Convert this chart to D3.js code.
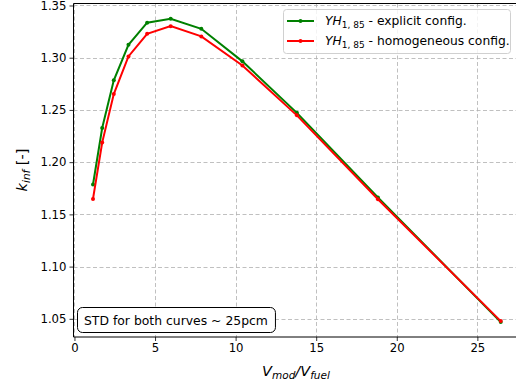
<!DOCTYPE html>
<html><head><meta charset="utf-8">
<script src="https://cdn.jsdelivr.net/npm/d3@7"></script>
<style>
body{margin:0;background:#fff;}
text{font-family:"DejaVu Sans",sans-serif;}
</style></head>
<body><svg id="c" width="516" height="387"></svg>
<script>
const xValues = [1.15, 1.72, 2.44, 3.35, 4.51, 5.97, 7.87, 10.42, 13.8, 18.83, 26.45];
const explicitVals = [1.1786, 1.2327, 1.2783, 1.3124, 1.3335, 1.3373, 1.3277, 1.2965, 1.2472, 1.1662, 1.0470];
const homogeneousVals = [1.1648, 1.2187, 1.2652, 1.3012, 1.3229, 1.3302, 1.3204, 1.2926, 1.2448, 1.1645, 1.0478];
const xTicks = [0, 5, 10, 15, 20, 25];
const yTicks = [1.05, 1.10, 1.15, 1.20, 1.25, 1.30, 1.35];
const seriesNames = ["explicit config.", "homogeneous config."];
const seriesColors = ["#008000", "#ff0000"];
const annotation = "STD for both curves ~ 25pcm";

const svg = d3.select("#c");
const L = 73.5, R = 522, T = 3.5, B = 337;
const x = d3.scaleLinear().domain([-0.06, 27.77]).range([L, R]);
const y = d3.scaleLinear().domain([1.0326, 1.3519]).range([B, T]);

// grid
const g = svg.append("g");
g.selectAll(".gx").data(xTicks).enter().append("line")
  .attr("x1", d => Math.round(x(d)) + 0.5).attr("x2", d => Math.round(x(d)) + 0.5)
  .attr("y1", T).attr("y2", B).attr("stroke", "#b0b0b0").attr("stroke-width", 0.8)
  .attr("stroke-dasharray", "4,2.5");
g.selectAll(".gy").data(yTicks).enter().append("line")
  .attr("y1", d => Math.round(y(d)) + 0.5).attr("y2", d => Math.round(y(d)) + 0.5)
  .attr("x1", L).attr("x2", R).attr("stroke", "#b0b0b0").attr("stroke-width", 0.8)
  .attr("stroke-dasharray", "4,2.5");

// axes
const xAxis = d3.axisBottom(x).tickValues(xTicks).tickSize(4).tickPadding(3).tickFormat(d3.format("d"));
const yAxis = d3.axisLeft(y).tickValues(yTicks).tickSize(4).tickPadding(3).tickFormat(d3.format(".2f"));
const gx = svg.append("g").attr("transform", `translate(0,${B})`).call(xAxis);
const gy = svg.append("g").attr("transform", `translate(${L},0)`).call(yAxis);
[gx, gy].forEach(a => {
  a.select(".domain").remove();
  a.selectAll("text").attr("font-size", 11.7).attr("fill", "#000").attr("font-family", "DejaVu Sans");
  a.selectAll("line").attr("stroke", "#000").attr("stroke-width", 0.8);
});
// spines
svg.append("line").attr("x1", L).attr("x2", L).attr("y1", T).attr("y2", B).attr("stroke", "#000").attr("stroke-width", 1);
svg.append("line").attr("x1", L).attr("x2", R).attr("y1", B).attr("y2", B).attr("stroke", "#000").attr("stroke-width", 1);
svg.append("line").attr("x1", L).attr("x2", R).attr("y1", T).attr("y2", T).attr("stroke", "#000").attr("stroke-width", 1);

// lines
const series = [explicitVals, homogeneousVals];
const line = d3.line().x((d, i) => x(xValues[i])).y(d => y(d));
series.forEach((s, k) => {
  svg.append("path").datum(s).attr("d", line).attr("fill", "none")
    .attr("stroke", seriesColors[k]).attr("stroke-width", 2);
  svg.selectAll(null).data(s).enter().append("circle")
    .attr("cx", (d, i) => x(xValues[i])).attr("cy", d => y(d)).attr("r", 2)
    .attr("fill", seriesColors[k]);
});

// legend
const lg = svg.append("g");
lg.append("rect").attr("x", 283.5).attr("y", 9.5).attr("width", 227).attr("height", 44)
  .attr("rx", 3).attr("fill", "#fff").attr("fill-opacity", 0.8).attr("stroke", "#d0d0d0").attr("stroke-width", 1);
seriesNames.forEach((n, k) => {
  const yy = 21 + k * 20;
  lg.append("line").attr("x1", 287).attr("x2", 314).attr("y1", yy).attr("y2", yy)
    .attr("stroke", seriesColors[k]).attr("stroke-width", 2);
  lg.append("circle").attr("cx", 300.5).attr("cy", yy).attr("r", 2).attr("fill", seriesColors[k]);
  const t = lg.append("text").attr("x", 325).attr("y", yy + 4).attr("font-size", 12.3).attr("fill", "#000");
  t.append("tspan").attr("font-style", "italic").text("YH");
  t.append("tspan").attr("font-size", 9).attr("dy", 2.5).text("1, 85");
  t.append("tspan").attr("dy", -2.5).text(" - " + n);
});

// annotation box
const ab = svg.append("g");
const at = ab.append("text").attr("x", 84).attr("y", 324.5).attr("font-size", 12.4).attr("fill", "#000").text(annotation);
const bw = at.node().getComputedTextLength();
ab.insert("rect", "text").attr("x", 77.5).attr("y", 307.5).attr("width", bw + 14).attr("height", 25)
  .attr("rx", 5).attr("fill", "#fff").attr("stroke", "#000").attr("stroke-width", 1);

// axis labels
const xl = svg.append("text").attr("x", 296).attr("y", 376).attr("text-anchor", "middle")
  .attr("font-size", 14.5).attr("fill", "#000");
xl.append("tspan").attr("font-style", "italic").text("V");
xl.append("tspan").attr("font-style", "italic").attr("font-size", 10.5).attr("dy", 3).text("mod");
xl.append("tspan").attr("font-style", "italic").attr("dy", -3).text("/V");
xl.append("tspan").attr("font-style", "italic").attr("font-size", 10.5).attr("dy", 3).text("fuel");

const yl = svg.append("text").attr("transform", "translate(27,170) rotate(-90)").attr("text-anchor", "middle")
  .attr("font-size", 14.5).attr("fill", "#000");
yl.append("tspan").attr("font-style", "italic").text("k");
yl.append("tspan").attr("font-style", "italic").attr("font-size", 10.5).attr("dy", 3).text("inf");
yl.append("tspan").attr("dy", -3).text(" [-]");
</script></body></html>
